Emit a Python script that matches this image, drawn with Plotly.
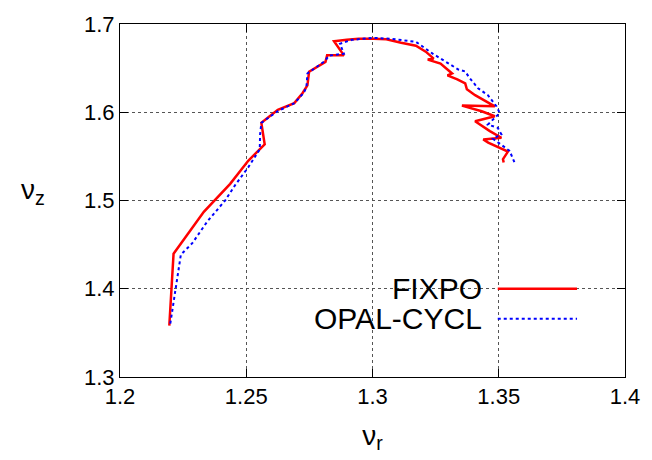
import plotly.graph_objects as go

# FIXPO tune diagram (nu_r, nu_z)
fixpo_nur = [1.21953, 1.22121, 1.23320, 1.24363, 1.25078, 1.25730, 1.25598, 1.26250,
             1.26902, 1.27227, 1.27422, 1.27488, 1.28137, 1.28203, 1.28867, 1.28477,
             1.28984, 1.29453, 1.30039, 1.30547, 1.31133, 1.31719, 1.32109, 1.32422,
             1.32188, 1.32695, 1.33152, 1.32969, 1.33359, 1.33672, 1.33738, 1.34063,
             1.34844, 1.33543, 1.34324, 1.34844, 1.34063, 1.34648, 1.35105, 1.34387,
             1.34582, 1.35363, 1.35168, 1.35195]
fixpo_nuz = [1.35826, 1.43972, 1.48711, 1.51882, 1.54504, 1.56364, 1.58796, 1.60286,
             1.61036, 1.62157, 1.63053, 1.64588, 1.65709, 1.66448, 1.66448, 1.68039,
             1.68207, 1.68319, 1.68319, 1.68263, 1.67871, 1.67535, 1.66863, 1.66078,
             1.65966, 1.65518, 1.64398, 1.64174, 1.63725, 1.63277, 1.62605, 1.61933,
             1.60667, 1.60756, 1.60106, 1.59546, 1.58986, 1.57866, 1.57115, 1.56924,
             1.56555, 1.55546, 1.54683, 1.54314]

# OPAL-CYCL tune diagram
opal_nur = [1.21992, 1.22410, 1.22863, 1.23449, 1.24168, 1.24559, 1.24883, 1.25078,
            1.25535, 1.25547, 1.25598, 1.26250, 1.26914, 1.27266, 1.27383, 1.27422,
            1.28086, 1.28281, 1.28867, 1.28711, 1.29180, 1.30039, 1.30742, 1.31719,
            1.32383, 1.33008, 1.33398, 1.33672, 1.33828, 1.34180, 1.34570, 1.34910,
            1.35039, 1.34570, 1.34961, 1.35105, 1.34766, 1.35430, 1.35547, 1.35625]
opal_nuz = [1.36050, 1.43860, 1.45160, 1.47591, 1.50022, 1.51737, 1.53003, 1.53754,
            1.55804, 1.57451, 1.58796, 1.60140, 1.61036, 1.62157, 1.62829, 1.64398,
            1.65742, 1.66415, 1.66639, 1.67759, 1.68207, 1.68431, 1.68319, 1.67983,
            1.66639, 1.65518, 1.64846, 1.64622, 1.63950, 1.62717, 1.61933, 1.60667,
            1.59916, 1.58605, 1.58235, 1.57485, 1.57003, 1.55625, 1.54874, 1.54314]

x_ticks = [1.2, 1.25, 1.3, 1.35, 1.4]
x_tick_labels = ["1.2", "1.25", "1.3", "1.35", "1.4"]
y_ticks = [1.3, 1.4, 1.5, 1.6, 1.7]
y_tick_labels = ["1.3", "1.4", "1.5", "1.6", "1.7"]

series_names = ["FIXPO", "OPAL-CYCL"]
FONT = "Liberation Sans, Arial, sans-serif"

fig = go.Figure()
fig.add_trace(go.Scatter(x=fixpo_nur, y=fixpo_nuz, mode="lines", name=series_names[0],
                         line=dict(color="#ff0000", width=2.5), showlegend=False))
fig.add_trace(go.Scatter(x=opal_nur, y=opal_nuz, mode="lines", name=series_names[1],
                         line=dict(color="#0000ff", width=2, dash="dot"), showlegend=False))

# gnuplot-style key: opaque box, right-aligned text, sample to the right
fig.add_shape(type="rect", xref="paper", yref="paper", x0=0.385, x1=0.93, y0=0.13, y1=0.295,
              fillcolor="white", line=dict(width=0), layer="between")
key_y = [0.25, 0.165]
key_styles = [dict(color="#ff0000", width=2.5), dict(color="#0000ff", width=2, dash="dot")]
for name, ky, st in zip(series_names, key_y, key_styles):
    fig.add_annotation(x=0.72, y=ky, xref="paper", yref="paper", text=name, showarrow=False,
                       xanchor="right", yanchor="middle", font=dict(family=FONT, size=30, color="black"))
    fig.add_shape(type="line", xref="paper", yref="paper", x0=0.748, x1=0.905, y0=ky, y1=ky,
                  line=st, layer="above")

fig.add_annotation(x=-0.2, y=0.525, xref="paper", yref="paper", text="ν<sub>z</sub>",
                   xanchor="left", yanchor="middle",
                   showarrow=False, font=dict(family=FONT, size=28, color="black"))

axis_common = dict(showline=True, linecolor="black", linewidth=1, mirror="ticks",
                   ticks="inside", ticklen=8, tickcolor="black", showgrid=True,
                   gridcolor="#555555", griddash="dot", gridwidth=1, zeroline=False,
                   tickfont=dict(family=FONT, size=22, color="black"))

fig.update_xaxes(range=[1.2, 1.4], tickvals=x_ticks, ticktext=x_tick_labels,
                 title=dict(text="ν<sub>r</sub>", font=dict(family=FONT, size=28, color="black"),
                            standoff=16), **axis_common)
fig.update_yaxes(range=[1.3, 1.7], tickvals=y_ticks, ticktext=y_tick_labels, **axis_common)

fig.update_layout(width=652, height=460, margin=dict(l=120, r=20, t=20, b=83),
                  plot_bgcolor="white", paper_bgcolor="white", showlegend=False,
                  font=dict(family=FONT))

fig.write_html("out.html", config={"displayModeBar": False},
               post_script=("document.documentElement.style.margin='0';"
                            "document.documentElement.style.overflow='hidden';"
                            "document.body.style.margin='0';"
                            "document.body.style.overflow='hidden';"))
